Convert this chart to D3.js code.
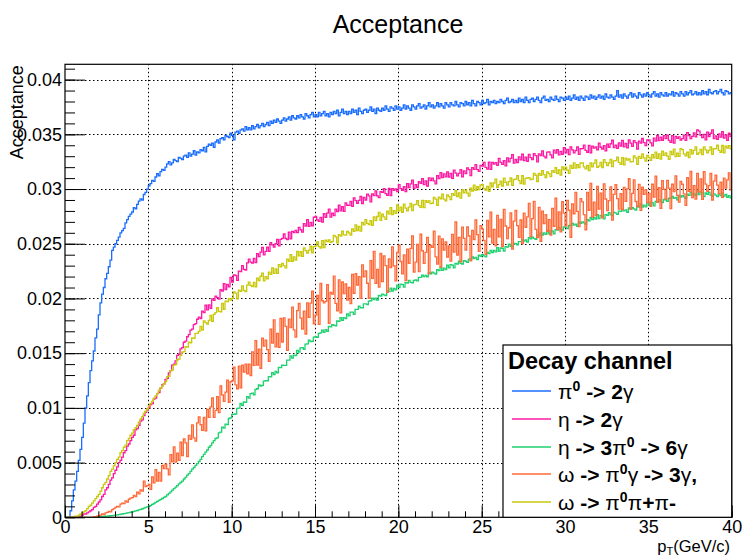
<!DOCTYPE html>
<html>
<head>
<meta charset="utf-8">
<script src="https://cdn.jsdelivr.net/npm/d3@7"></script>
<style>
  body { margin: 0; background: #fff; }
  svg { display: block; }
  text { font-family: "Liberation Sans", Arial, Helvetica, sans-serif; fill: #000; }
</style>
</head>
<body>
<svg id="chart" width="742" height="557"></svg>
<script>
// Acceptance histograms, 400 bins of 0.1 GeV/c over 0-40 GeV/c.
// Stored values are acceptance x 1e5.
const UNIT = 1e-5;
const ptMin = 0, ptMax = 40;

const pi0_2g = [
  0,0,0,60,150,250,330,420,520,620,
  730,860,1000,1110,1230,1340,1430,1520,1640,1720,
  1850,1960,2040,2100,2180,2230,2290,2350,2440,2470,
  2500,2530,2560,2600,2620,2640,2690,2720,2750,2770,
  2790,2830,2820,2860,2890,2910,2900,2950,2970,3000,
  3030,3050,3080,3070,3110,3140,3120,3160,3180,3170,
  3200,3230,3250,3220,3240,3270,3260,3250,3290,3280,
  3270,3300,3310,3290,3330,3300,3320,3350,3310,3340,
  3330,3360,3350,3380,3340,3390,3410,3400,3420,3380,
  3430,3450,3420,3460,3470,3450,3490,3480,3470,3510,
  3490,3450,3520,3530,3510,3540,3550,3530,3570,3540,
  3560,3540,3580,3550,3570,3590,3560,3580,3600,3570,
  3590,3610,3580,3620,3600,3630,3610,3640,3620,3600,
  3630,3650,3620,3640,3660,3630,3670,3650,3640,3670,
  3650,3680,3660,3640,3690,3670,3650,3680,3700,3660,
  3680,3660,3700,3670,3690,3710,3670,3690,3660,3700,
  3680,3710,3690,3720,3670,3700,3730,3690,3710,3680,
  3710,3690,3730,3700,3720,3680,3740,3710,3690,3720,
  3730,3700,3720,3750,3710,3730,3690,3740,3720,3710,
  3740,3720,3760,3730,3710,3750,3740,3720,3760,3730,
  3750,3720,3740,3770,3730,3760,3740,3720,3770,3750,
  3730,3760,3780,3740,3750,3770,3730,3760,3790,3750,
  3770,3740,3760,3790,3750,3780,3760,3740,3790,3770,
  3750,3790,3770,3760,3800,3770,3750,3790,3780,3760,
  3800,3770,3790,3760,3810,3780,3760,3800,3790,3770,
  3810,3780,3790,3820,3770,3800,3790,3810,3780,3800,
  3790,3820,3800,3780,3810,3830,3790,3800,3820,3790,
  3810,3790,3830,3800,3820,3790,3840,3810,3790,3820,
  3830,3800,3820,3840,3810,3790,3830,3850,3810,3820,
  3800,3840,3820,3810,3850,3820,3800,3840,3830,3810,
  3840,3820,3850,3810,3830,3860,3820,3840,3810,3850,
  3830,3810,3850,3840,3820,3860,3830,3850,3820,3840,
  3860,3830,3850,3820,3870,3840,3830,3860,3840,3820,
  3850,3900,3840,3860,3830,3870,3850,3830,3860,3880,
  3840,3870,3850,3830,3880,3860,3840,3870,3850,3880,
  3860,3840,3870,3890,3850,3870,3840,3880,3860,3850,
  3880,3850,3870,3860,3890,3850,3880,3870,3850,3890,
  3870,3850,3890,3860,3880,3900,3860,3870,3890,3860,
  3880,3860,3900,3870,3890,3860,3910,3880,3870,3890,
  3900,3870,3890,3910,3880,3860,3900,3890,3870,3880
];

const eta_2g = [
  0,0,0,0,0,0,0,0,0,10,
  20,30,30,40,50,60,70,90,100,120,
  140,160,190,210,250,270,300,340,360,400,
  430,460,500,520,550,590,610,650,670,700,
  730,750,800,810,840,880,890,930,960,980,
  1000,1030,1040,1080,1090,1130,1140,1180,1210,1220,
  1260,1270,1320,1340,1390,1400,1430,1480,1490,1540,
  1550,1600,1610,1650,1670,1710,1720,1760,1770,1810,
  1830,1817,1884,1871,1938,1895,1942,1909,1996,1983,
  2020,2007,1994,2081,2068,2135,2082,2129,2106,2193,
  2150,2215,2210,2165,2250,2245,2300,2265,2260,2325,
  2360,2332,2324,2366,2328,2410,2382,2424,2466,2398,
  2430,2470,2430,2510,2490,2470,2500,2540,2480,2540,
  2550,2589,2548,2537,2606,2545,2614,2603,2622,2601,
  2650,2628,2606,2684,2662,2720,2658,2696,2664,2742,
  2750,2717,2704,2741,2698,2775,2742,2779,2816,2743,
  2780,2758,2816,2794,2852,2800,2838,2796,2874,2852,
  2850,2886,2842,2918,2894,2870,2896,2932,2868,2924,
  2900,2954,2938,2882,2956,2940,2984,2938,2922,2976,
  2970,3004,2958,2942,3006,2940,3004,2988,3002,2976,
  3040,3004,2988,3022,2976,3050,3014,3048,3082,3006,
  3040,3014,3068,3052,3096,3040,3074,3028,3102,3076,
  3100,3074,3048,3122,3096,3150,3104,3138,3112,3156,
  3110,3144,3098,3172,3146,3120,3144,3178,3112,3166,
  3140,3194,3178,3122,3196,3180,3224,3178,3162,3216,
  3210,3244,3198,3182,3246,3180,3244,3228,3242,3216,
  3280,3243,3226,3259,3212,3285,3248,3281,3314,3237,
  3270,3242,3294,3266,3318,3260,3292,3254,3316,3288,
  3270,3323,3306,3249,3322,3305,3348,3301,3284,3337,
  3340,3312,3284,3356,3328,3360,3312,3344,3316,3378,
  3330,3362,3314,3386,3358,3330,3352,3384,3316,3368,
  3370,3402,3354,3336,3398,3330,3392,3374,3386,3358,
  3420,3382,3364,3396,3348,3410,3382,3414,3446,3378,
  3400,3371,3422,3393,3444,3385,3416,3377,3448,3419,
  3390,3442,3424,3366,3438,3420,3462,3424,3396,3448,
  3450,3422,3394,3466,3438,3490,3442,3474,3446,3488,
  3460,3492,3444,3426,3488,3420,3482,3464,3476,3448,
  3460,3492,3444,3516,3488,3460,3482,3514,3476,3540,
  3530,3490,3470,3500,3450,3520,3480,3510,3540,3460,
  3485,3455,3505,3475,3525,3465,3495,3445,3510,3480
];

const eta_3pi0 = [
  0,0,0,0,0,0,0,0,0,0,
  0,0,0,0,0,0,0,0,2,3,
  5,5,6,8,10,10,12,14,16,18,
  20,22,25,28,30,33,36,40,43,46,
  50,54,58,62,67,72,78,84,90,95,
  100,108,118,126,136,145,155,163,172,182,
  190,205,218,232,248,262,275,290,305,318,
  330,350,365,385,400,420,440,455,475,490,
  510,530,555,575,595,615,640,655,680,700,
  720,726,772,778,824,815,851,847,903,909,
  940,942,944,996,998,1040,1022,1054,1051,1103,
  1090,1130,1135,1120,1170,1175,1210,1200,1205,1245,
  1250,1248,1286,1284,1322,1305,1333,1321,1369,1367,
  1390,1389,1388,1437,1436,1475,1454,1483,1477,1526,
  1510,1548,1551,1534,1582,1585,1618,1606,1609,1647,
  1650,1645,1680,1685,1710,1690,1715,1700,1745,1740,
  1760,1755,1750,1795,1790,1825,1800,1825,1815,1860,
  1840,1875,1875,1855,1900,1900,1930,1915,1915,1950,
  1950,1943,1976,1979,2002,1990,2003,1986,2029,2022,
  2040,2033,2026,2069,2062,2095,2068,2091,2079,2122,
  2100,2131,2127,2103,2144,2140,2166,2147,2143,2164,
  2170,2161,2192,2193,2214,2200,2211,2198,2233,2224,
  2240,2231,2222,2263,2254,2285,2256,2277,2263,2304,
  2280,2310,2305,2280,2320,2315,2340,2320,2315,2345,
  2340,2330,2360,2360,2380,2365,2375,2355,2395,2385,
  2400,2390,2380,2420,2410,2440,2420,2440,2425,2465,
  2430,2461,2457,2433,2474,2470,2496,2477,2473,2504,
  2500,2490,2520,2520,2540,2525,2535,2515,2555,2545,
  2560,2550,2540,2580,2570,2600,2580,2600,2585,2625,
  2590,2620,2615,2590,2630,2625,2650,2630,2625,2655,
  2650,2639,2668,2667,2686,2670,2679,2658,2697,2686,
  2700,2690,2680,2720,2710,2740,2720,2740,2725,2765,
  2730,2759,2753,2727,2766,2760,2784,2763,2757,2786,
  2780,2769,2798,2797,2816,2800,2809,2788,2827,2816,
  2830,2819,2808,2847,2836,2865,2834,2853,2837,2876,
  2850,2879,2873,2847,2886,2880,2904,2883,2877,2906,
  2900,2888,2916,2914,2932,2915,2923,2901,2939,2927,
  2940,2928,2916,2954,2942,2970,2948,2956,2939,2987,
  2950,2973,2962,2930,2964,2952,2971,2944,2933,2956,
  2945,2930,2955,2940,2965,2935,2950,2925,2940,2920
];

const omega_pi0g = [
  0,0,0,0,0,0,0,0,0,0,
  0,0,0,0,0,0,2,4,6,10,
  15,20,30,25,40,45,55,50,70,80,
  90,100,95,120,130,125,150,140,165,175,
  180,200,190,230,215,250,240,330,280,290,
  300,255,370,315,435,330,410,330,475,445,
  486,443,388,573,506,643,504,587,520,687,
  564,717,681,554,749,713,845,725,696,863,
  918,846,795,912,791,985,913,1009,1091,914,
  978,1103,956,1201,1118,1059,1144,1253,1050,1239,
  1247,1373,1211,1175,1382,1184,1391,1328,1400,1310,
  1400,1296,1512,1388,1614,1390,1536,1362,1638,1564,
  1620,1533,1426,1719,1592,1805,1558,1681,1554,1817,
  1602,1822,1745,1525,1811,1734,1921,1712,1646,1888,
  1954,1821,1721,1885,1675,1960,1827,1958,2067,1769,
  1848,2027,1764,2138,1979,1959,1973,2126,1772,2055,
  2039,2205,1955,1887,2170,1868,2151,2044,2132,1986,
  2100,1952,2220,2046,2227,2123,2200,2001,2307,2198,
  2252,2139,2002,2345,2184,2431,2138,2265,2104,2411,
  2154,2389,2300,2055,2362,2283,2472,2299,2162,2421,
  2488,2338,2224,2398,2164,2450,2320,2458,2572,2242,
  2332,2493,2246,2587,2436,2321,2422,2559,2228,2485,
  2466,2615,2380,2313,2570,2287,2544,2441,2518,2379,
  2480,2341,2586,2423,2700,2397,2558,2335,2652,2549,
  2442,2655,2571,2344,2623,2539,2719,2583,2430,2665,
  2636,2530,2402,2714,2564,2788,2506,2631,2481,2760,
  2562,2722,2474,2814,2662,2546,2646,2782,2450,2706,
  2804,2665,2559,2717,2501,2780,2651,2746,2869,2565,
  2729,2888,2631,2556,2832,2523,2799,2685,2766,2613,
  2720,2580,2824,2660,2916,2632,2792,2608,2884,2780,
  2664,2897,2806,2559,2864,2773,2970,2795,2656,2913,
  2882,2767,2628,2969,2806,3051,2744,2881,2758,3023,
  2816,2963,2736,3048,2909,2803,2895,3020,2716,2951,
  3040,2913,2816,2959,2812,3015,2888,3001,3094,2817,
  2960,3083,2886,2839,3042,2805,3018,2951,2994,2877,
  2960,2842,3044,2926,3118,2880,3012,2824,3076,2998,
  2908,3080,3009,2821,3044,2976,3121,2942,2880,3070,
  3044,2956,2850,3104,2980,3162,2922,3031,2907,3144,
  2974,3093,2906,3160,3045,2980,3031,3142,2900,3073,
  3128,3036,2959,3064,2924,3099,3008,3084,3147,2990
];

const omega_3pi = [
  0,0,0,0,0,0,10,10,20,30,
  40,50,60,80,100,110,130,150,170,190,
  210,240,270,300,320,350,380,420,440,470,
  500,530,550,590,610,640,660,700,720,750,
  770,800,820,840,870,900,920,950,970,990,
  1020,1040,1060,1090,1110,1130,1160,1180,1200,1220,
  1240,1285,1290,1340,1345,1390,1395,1440,1445,1480,
  1510,1515,1560,1555,1600,1595,1640,1635,1680,1680,
  1700,1745,1710,1795,1780,1765,1800,1845,1790,1855,
  1870,1916,1882,1878,1954,1900,1976,1972,1998,1984,
  2000,2059,2048,1997,2076,2065,2114,2073,2062,2121,
  2150,2119,2108,2147,2106,2185,2164,2203,2232,2161,
  2200,2180,2240,2220,2280,2230,2270,2230,2310,2290,
  2320,2300,2280,2360,2340,2400,2340,2380,2350,2430,
  2390,2427,2384,2461,2438,2415,2442,2479,2416,2473,
  2480,2517,2474,2461,2528,2465,2532,2519,2536,2513,
  2520,2576,2562,2508,2584,2570,2616,2582,2578,2614,
  2600,2578,2636,2614,2672,2620,2658,2616,2694,2672,
  2720,2687,2674,2711,2668,2745,2712,2749,2786,2713,
  2770,2746,2722,2798,2774,2830,2766,2802,2778,2854,
  2800,2834,2788,2862,2826,2800,2834,2868,2802,2856,
  2860,2894,2848,2832,2896,2830,2894,2878,2892,2866,
  2870,2924,2908,2852,2926,2910,2954,2908,2892,2946,
  2930,2904,2958,2942,2986,2930,2964,2918,2992,2966,
  2990,2963,2936,3009,2982,3035,2988,3021,2994,3037,
  3040,3005,2990,3025,2980,3055,3020,3055,3090,3015,
  3040,3073,3026,3099,3062,3035,3068,3101,3034,3087,
  3090,3123,3076,3049,3122,3045,3098,3101,3104,3087,
  3090,3143,3126,3069,3142,3125,3168,3131,3104,3157,
  3140,3114,3168,3152,3196,3140,3174,3128,3202,3176,
  3200,3172,3144,3216,3188,3240,3192,3224,3196,3238,
  3240,3202,3184,3216,3168,3240,3202,3234,3266,3198,
  3210,3243,3196,3269,3242,3215,3238,3271,3204,3257,
  3260,3292,3244,3226,3288,3220,3282,3264,3276,3248,
  3250,3302,3284,3226,3298,3280,3322,3284,3256,3308,
  3290,3262,3314,3286,3338,3280,3322,3274,3346,3308,
  3330,3301,3272,3343,3314,3365,3296,3327,3298,3369,
  3360,3322,3304,3336,3288,3360,3322,3354,3386,3318,
  3330,3362,3314,3386,3358,3330,3352,3384,3316,3368,
  3370,3402,3354,3336,3398,3330,3392,3374,3396,3368
];

const xTicks = [0, 5, 10, 15, 20, 25, 30, 35, 40];
const yTicks = [0, 0.005, 0.01, 0.015, 0.02, 0.025, 0.03, 0.035, 0.04];
const yTickLabels = ["0", "0.005", "0.01", "0.015", "0.02", "0.025", "0.03", "0.035", "0.04"];

// Legend rows: text pieces (g = Greek symbol, sup = superscript)
const legendTitle = "Decay channel";
const channels = [
  { key: "pi0_2g",     color: "#1a6dff", data: pi0_2g,
    label: [{t: "π", g: true}, {t: "0", sup: true}, {t: " -> 2"}, {t: "γ", g: true}] },
  { key: "eta_2g",     color: "#ff1aa3", data: eta_2g,
    label: [{t: "η", g: true}, {t: " -> 2"}, {t: "γ", g: true}] },
  { key: "eta_3pi0",   color: "#1fd170", data: eta_3pi0,
    label: [{t: "η", g: true}, {t: " -> 3"}, {t: "π", g: true}, {t: "0", sup: true}, {t: " -> 6"}, {t: "γ", g: true}] },
  { key: "omega_pi0g", color: "#ff6a38", data: omega_pi0g,
    label: [{t: "ω", g: true}, {t: " -> "}, {t: "π", g: true}, {t: "0", sup: true}, {t: "γ", g: true}, {t: " -> 3"}, {t: "γ", g: true}, {t: ","}] },
  { key: "omega_3pi",  color: "#c9c90c", data: omega_3pi,
    label: [{t: "ω", g: true}, {t: " -> "}, {t: "π", g: true}, {t: "0", sup: true}, {t: "π", g: true}, {t: "+"}, {t: "π", g: true}, {t: "-"}] }
];

const svg = d3.select("#chart");
const W = 742, H = 557;
const frame = { left: 65, right: 731.7, top: 64.3, bottom: 517.3 };

const x = d3.scaleLinear().domain([ptMin, ptMax]).range([frame.left, frame.right]);
const y = d3.scaleLinear().domain([0, 0.0414]).range([frame.bottom, frame.top]);

svg.append("rect").attr("width", W).attr("height", H).attr("fill", "#fff");

// Title
svg.append("text")
  .attr("x", 398).attr("y", 33)
  .attr("text-anchor", "middle")
  .attr("font-size", 25)
  .text("Acceptance");

// Dotted grid at major ticks
const grid = svg.append("g").attr("stroke", "#000").attr("stroke-width", 1)
  .attr("stroke-dasharray", "1.5,2.5");
grid.selectAll("line.gx").data(xTicks.filter(d => d > ptMin && d < ptMax)).join("line")
  .attr("x1", d => Math.round(x(d)) + 0.5).attr("x2", d => Math.round(x(d)) + 0.5)
  .attr("y1", frame.bottom).attr("y2", frame.top);
grid.selectAll("line.gy").data(yTicks.filter(d => d > 0)).join("line")
  .attr("x1", frame.left).attr("x2", frame.right)
  .attr("y1", d => Math.round(y(d)) + 0.5).attr("y2", d => Math.round(y(d)) + 0.5);

// Histograms as step outlines
svg.append("clipPath").attr("id", "plotclip")
  .append("rect")
  .attr("x", frame.left).attr("y", frame.top)
  .attr("width", frame.right - frame.left).attr("height", frame.bottom - frame.top);

const stepLine = d3.line()
  .x(d => x(d[0]))
  .y(d => y(d[1]))
  .curve(d3.curveStepAfter);

function edges(values) {
  const w = (ptMax - ptMin) / values.length;
  const pts = values.map((v, i) => [ptMin + i * w, v * UNIT]);
  pts.push([ptMax, values[values.length - 1] * UNIT]);
  return pts;
}

svg.append("g").attr("clip-path", "url(#plotclip)")
  .selectAll("path").data(channels).join("path")
  .attr("d", d => stepLine(edges(d.data)))
  .attr("fill", "none")
  .attr("stroke", d => d.color)
  .attr("stroke-width", 1.3);

// Axes: ticks point into the frame
const xAxis = svg.append("g")
  .attr("transform", `translate(0,${frame.bottom})`)
  .call(d3.axisBottom(x).tickValues(xTicks).tickSizeInner(-12).tickSizeOuter(0).tickPadding(3)
    .tickFormat(d3.format("d")));
const xMinor = svg.append("g")
  .attr("transform", `translate(0,${frame.bottom})`)
  .call(d3.axisBottom(x).tickValues(d3.range(ptMin, ptMax + 1, 1)).tickSizeInner(-6).tickSizeOuter(0)
    .tickFormat(""));

const yAxis = svg.append("g")
  .attr("transform", `translate(${frame.left},0)`)
  .call(d3.axisLeft(y).tickValues(yTicks).tickSizeInner(-20).tickSizeOuter(0).tickPadding(3)
    .tickFormat((d, i) => yTickLabels[i]));
const yMinor = svg.append("g")
  .attr("transform", `translate(${frame.left},0)`)
  .call(d3.axisLeft(y).tickValues(d3.range(0, 42).map(i => i * 0.001)).tickSizeInner(-10).tickSizeOuter(0)
    .tickFormat(""));

[xAxis, xMinor, yAxis, yMinor].forEach(g => {
  g.select(".domain").remove();
  g.selectAll("line").attr("stroke", "#000").attr("stroke-width", 1);
  g.selectAll("text").attr("font-size", 18).attr("font-family", null).attr("fill", "#000");
});

// Frame
svg.append("rect")
  .attr("x", frame.left).attr("y", frame.top)
  .attr("width", frame.right - frame.left).attr("height", frame.bottom - frame.top)
  .attr("fill", "none").attr("stroke", "#000").attr("stroke-width", 1.2);

// Axis titles
const xt = svg.append("text")
  .attr("x", 730).attr("y", 552)
  .attr("text-anchor", "end")
  .attr("font-size", 16.5);
xt.append("tspan").text("p");
xt.append("tspan").attr("font-size", 11).attr("dy", 2.5).text("T");
xt.append("tspan").attr("dy", -2.5).text("(GeV/c)");

svg.append("text")
  .attr("transform", `translate(23,${frame.top + 1}) rotate(-90)`)
  .attr("text-anchor", "end")
  .attr("font-size", 18)
  .text("Acceptance");

// Legend
const lg = { x0: 503, x1: 731.7, y0: 345, y1: 517.3 };
svg.append("rect")
  .attr("x", lg.x0).attr("y", lg.y0)
  .attr("width", lg.x1 - lg.x0).attr("height", lg.y1 - lg.y0)
  .attr("fill", "#fff").attr("stroke", "#000").attr("stroke-width", 1.2);

svg.append("text")
  .attr("x", 508).attr("y", 369)
  .attr("font-size", 23.5).attr("font-weight", "bold")
  .text(legendTitle);

const rowY = [391, 419, 447, 474, 502];
const rows = svg.append("g").selectAll("g").data(channels).join("g")
  .attr("transform", (d, i) => `translate(0,${rowY[i]})`);
rows.append("line")
  .attr("x1", 512).attr("x2", 551).attr("y1", 0).attr("y2", 0)
  .attr("stroke", d => d.color).attr("stroke-width", 1.3);
const rowText = rows.append("text")
  .attr("x", 558).attr("y", 7.5)
  .attr("font-size", 21).attr("font-weight", "bold");
rowText.each(function(d) {
  const t = d3.select(this);
  let raised = false;
  d.label.forEach(p => {
    const s = t.append("tspan").text(p.t);
    if (p.g) s.attr("font-weight", "normal");
    if (p.sup) { s.attr("font-size", 14).attr("dy", -8); raised = true; }
    else if (raised) { s.attr("dy", 8); raised = false; }
  });
});
</script>
</body>
</html>
